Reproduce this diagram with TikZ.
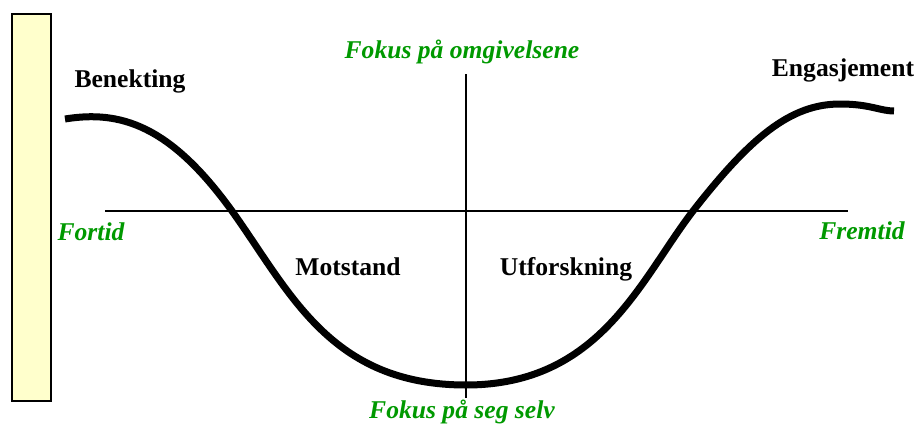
\documentclass[tikz,border=0pt]{standalone}
\usepackage{fontspec}
\setmainfont{Liberation Serif}
\usetikzlibrary{positioning}
\definecolor{grnn}{RGB}{0,153,0}
\definecolor{veggfarge}{RGB}{255,255,204}

\begin{document}
\begin{tikzpicture}[x=0.5pt, y=-0.5pt,
  fase/.style={font=\fontsize{12.8}{14}\selectfont\bfseries, inner sep=0pt, anchor=base},
  akse/.style={fase, text=grnn, font=\fontsize{12.8}{14}\selectfont\bfseries\itshape},
  linje/.style={line width=1pt},
  kurve/.style={line width=3.5pt}]
  \useasboundingbox (0,0) rectangle (915,423);
  \draw[line width=1pt, fill=veggfarge] (12,14) rectangle (51,401);
  % akser
  \coordinate (fortidende) at (105,211);
  \coordinate (fremtidende) at (848,211);
  \coordinate (topp) at (466,74);
  \coordinate (bunn) at (466,398);
  \draw[linje] (fortidende) -- (fremtidende);
  \draw[linje] (topp) -- (bunn);
  % endringskurven
  \draw[kurve] (65,119) .. controls (120,110) and (170,125) .. (232,211)
    .. controls (290,292) and (330,385) .. (466,385)
    .. controls (600,385) and (640,280) .. (693,211)
    .. controls (750,138) and (790,104) .. (840,104)
    .. controls (870,104) and (880,111) .. (894,111);
  \node[fase] (benekting) at (130,87) {Benekting};
  \node[fase] (engasjement) at (843,76) {Engasjement};
  \node[fase] (motstand) at (348,275) {Motstand};
  \node[fase] (utforskning) at (566,275) {Utforskning};
  \node[akse] (omgivelser) at (462,58) {Fokus på omgivelsene};
  \node[akse] (segselv) at (462,418) {Fokus på seg selv};
  \node[akse] (fortid) at (91,240) {Fortid};
  \node[akse] (fremtid) at (862,239) {Fremtid};
\end{tikzpicture}
\end{document}
